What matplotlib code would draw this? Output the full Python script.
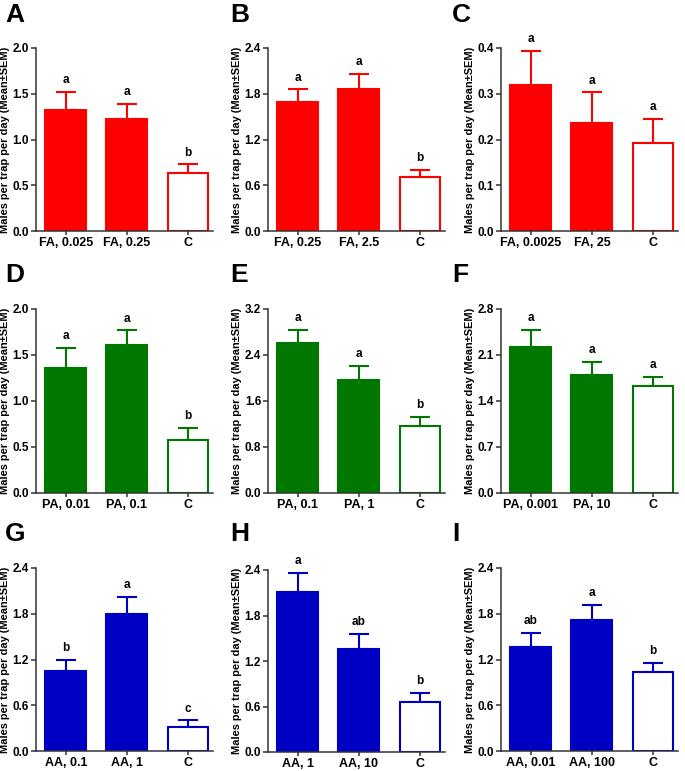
import matplotlib
matplotlib.use('Agg')
import matplotlib.pyplot as plt

plt.rcParams['font.family'] = ['Liberation Sans', 'DejaVu Sans']
plt.rcParams['font.weight'] = 'bold'

RED = '#ff0000'
GREEN = '#007800'
BLUE = '#0000c4'

# panel data: labels, means, SEM (upper only), significance letters
labels_A = ['FA, 0.025', 'FA, 0.25', 'C']
mean_A = [1.32, 1.22, 0.63]
sem_A = [0.20, 0.17, 0.10]
sig_A = ['a', 'a', 'b']

labels_B = ['FA, 0.25', 'FA, 2.5', 'C']
mean_B = [1.69, 1.86, 0.71]
sem_B = [0.17, 0.20, 0.09]
sig_B = ['a', 'a', 'b']

labels_C = ['FA, 0.0025', 'FA, 25', 'C']
mean_C = [0.319, 0.236, 0.193]
sem_C = [0.075, 0.067, 0.052]
sig_C = ['a', 'a', 'a']

labels_D = ['PA, 0.01', 'PA, 0.1', 'C']
mean_D = [1.36, 1.61, 0.58]
sem_D = [0.22, 0.16, 0.13]
sig_D = ['a', 'a', 'b']

labels_E = ['PA, 0.1', 'PA, 1', 'C']
mean_E = [2.61, 1.97, 1.16]
sem_E = [0.23, 0.24, 0.17]
sig_E = ['a', 'a', 'b']

labels_F = ['PA, 0.001', 'PA, 10', 'C']
mean_F = [2.22, 1.79, 1.63]
sem_F = [0.26, 0.21, 0.14]
sig_F = ['a', 'a', 'a']

labels_G = ['AA, 0.1', 'AA, 1', 'C']
mean_G = [1.05, 1.80, 0.32]
sem_G = [0.15, 0.22, 0.085]
sig_G = ['b', 'a', 'c']

labels_H = ['AA, 1', 'AA, 10', 'C']
mean_H = [2.11, 1.36, 0.66]
sem_H = [0.25, 0.20, 0.12]
sig_H = ['a', 'ab', 'b']

labels_I = ['AA, 0.01', 'AA, 100', 'C']
mean_I = [1.37, 1.72, 1.03]
sem_I = [0.18, 0.20, 0.13]
sig_I = ['ab', 'a', 'b']

panels = [
    ('A', labels_A, mean_A, sem_A, sig_A, RED, 2.0, [0, 0.5, 1.0, 1.5, 2.0]),
    ('B', labels_B, mean_B, sem_B, sig_B, RED, 2.4, [0, 0.6, 1.2, 1.8, 2.4]),
    ('C', labels_C, mean_C, sem_C, sig_C, RED, 0.4, [0, 0.1, 0.2, 0.3, 0.4]),
    ('D', labels_D, mean_D, sem_D, sig_D, GREEN, 2.0, [0, 0.5, 1.0, 1.5, 2.0]),
    ('E', labels_E, mean_E, sem_E, sig_E, GREEN, 3.2, [0, 0.8, 1.6, 2.4, 3.2]),
    ('F', labels_F, mean_F, sem_F, sig_F, GREEN, 2.8, [0, 0.7, 1.4, 2.1, 2.8]),
    ('G', labels_G, mean_G, sem_G, sig_G, BLUE, 2.4, [0, 0.6, 1.2, 1.8, 2.4]),
    ('H', labels_H, mean_H, sem_H, sig_H, BLUE, 2.4, [0, 0.6, 1.2, 1.8, 2.4]),
    ('I', labels_I, mean_I, sem_I, sig_I, BLUE, 2.4, [0, 0.6, 1.2, 1.8, 2.4]),
]

W, H = 685, 771
# axes boxes in pixels
col_x = [(36, 213), (268, 445), (501, 678)]
row_y = [(48, 231), (309, 493), (568, 751)]

fig = plt.figure(figsize=(W / 100, H / 100), dpi=100)

for i, (letter, labels, means, sems, sigs, col, ymax, yticks) in enumerate(panels):
    r, c = divmod(i, 3)
    x0, x1 = col_x[c]
    y0, y1 = row_y[r]
    if letter == 'H':
        y0, y1 = y0 + 2, y1 + 1
    ax = fig.add_axes([x0 / W, 1 - y1 / H, (x1 - x0) / W, (y1 - y0) / H])
    xs = range(len(means))
    faces = [col, col, 'white']
    ax.errorbar(xs, means, yerr=[[0] * 3, sems], fmt='none', ecolor=col,
                elinewidth=1.5, capsize=7, capthick=1.5, zorder=1)
    ax.bar(xs, means, width=0.67, color=faces, edgecolor=col, linewidth=1.5, zorder=2)
    for x, m, s, t in zip(xs, means, sems, sigs):
        ax.annotate(t, (x, m + s), xytext=(0, 4), textcoords='offset points',
                    ha='center', va='bottom', fontsize=8.5, fontweight='bold')
    ax.set_xlim(-0.49, 2.41)
    ax.set_ylim(0, ymax)
    ax.set_yticks(yticks)
    ax.set_yticklabels(['%.1f' % v for v in yticks])
    ax.set_xticks(list(xs))
    ax.set_xticklabels(labels)
    ax.tick_params(axis='x', length=3, width=1.1, pad=1.5, labelsize=9, color='#333333')
    ax.tick_params(axis='y', length=3.5, width=1.1, pad=1.5, labelsize=8.5, color='#333333')
    for lab in ax.get_xticklabels() + ax.get_yticklabels():
        lab.set_fontweight('bold')
    ax.spines['top'].set_visible(False)
    ax.spines['right'].set_visible(False)
    for sp in ('left', 'bottom'):
        ax.spines[sp].set_linewidth(1.1)
        ax.spines[sp].set_color('#333333')
    ax.set_ylabel('Males per trap per day (Mean\u00b1SEM)', fontsize=7.9,
                  fontweight='bold', labelpad=1.5)
    lx = [5, 230, 452][c] / W
    ly = 1 - [3, 263, 522][r] / H
    fig.text(lx, ly, letter, fontsize=19, fontweight='bold', ha='left', va='top')

fig.savefig('out.png', dpi=100)
